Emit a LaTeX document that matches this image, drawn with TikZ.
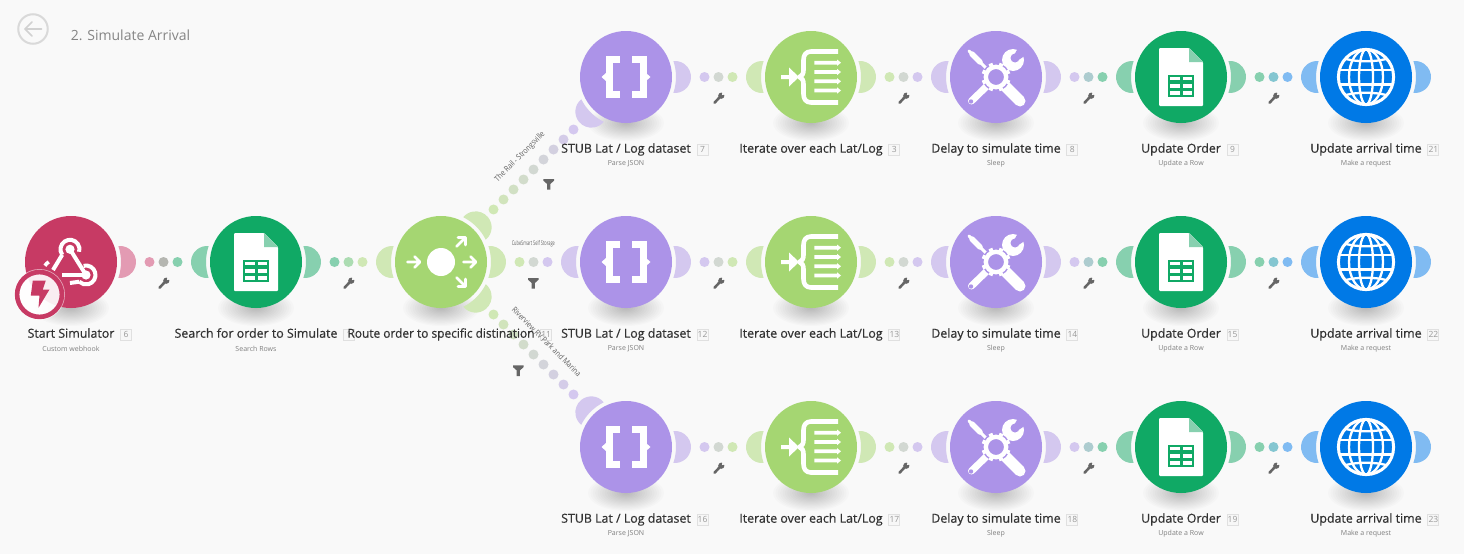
\documentclass[tikz,border=0pt]{standalone}
\usepackage{fontspec}
\usetikzlibrary{calc}
\setmainfont{Open Sans}
\newfontfamily\labfont[FakeBold=0.5]{Open Sans}
\newfontfamily\plainfont{Open Sans}
\definecolor{bgc}{HTML}{F9F9F9}
\definecolor{cpink}{HTML}{C73A64}\definecolor{lpink}{HTML}{E39BB3}
\definecolor{cdgreen}{HTML}{10A965}\definecolor{ldgreen}{HTML}{87D0AF}
\definecolor{clgreen}{HTML}{A5D672}\definecolor{llgreen}{HTML}{D0E8B5}
\definecolor{cpurple}{HTML}{AC93E8}\definecolor{lpurple}{HTML}{D4C8EF}
\definecolor{cblue}{HTML}{0079E6}\definecolor{lblue}{HTML}{80BBF2}
\definecolor{toolc}{HTML}{666666}
\tikzset{
  x=1pt,y=1pt,
  modcirc/.style={circle,minimum size=92pt,inner sep=0pt,draw=none},
  modlab/.style={inner sep=0pt,text height=9pt,text depth=3pt,font=\labfont\fontsize{12.4}{13}\selectfont,text=black!80},
  sublab/.style={inner sep=0pt,font=\plainfont\fontsize{7}{8}\selectfont,text=black!50},
  idxbox/.style={draw=black!12,fill=black!3,line width=1pt,minimum size=11pt,inner sep=0pt,font=\plainfont\fontsize{8.5}{9}\selectfont,text=black!40},
  edgelab/.style={inner sep=0pt,font=\plainfont\fontsize{8}{9}\selectfont,text=black!62},
  icw/.style={draw=white,line cap=round,line join=round},
  braceicon/.pic={
    \draw[icw,line width=7pt,line cap=butt,line join=miter] (-6,17.7) -- (-17,17.7) -- (-17,-17.7) -- (-6,-17.7);
    \draw[icw,line width=7pt,line cap=butt,line join=miter] (6,17.7) -- (17,17.7) -- (17,-17.7) -- (6,-17.7);
    \fill[white] (-20,4) -- (-24.5,0) -- (-20,-4) -- cycle;
    \fill[white] (20,4) -- (24.5,0) -- (20,-4) -- cycle;
  },
  sheeticon/.pic={
    \fill[white,rounded corners=1pt] (-22,29) -- (8,29) -- (22,15) -- (22,-29) -- (-22,-29) -- cycle;
    \fill[ldgreen] (8,29) -- (22,15) -- (8,15) -- cycle;
    \fill[cdgreen] (-12.8,2.5) rectangle (13,-19.5);
    \foreach \cx in {-10.6,1.6} \foreach \cy in {0.2,-7,-14} \fill[white] (\cx,\cy) rectangle ++(9.2,-3.6);
  },
  routericon/.pic={
    \fill[white] (0,0) circle (14);
    \draw[icw,line width=2.6pt] (-33.5,0) -- (-22,0) (-26.5,5.5) -- (-21,0) -- (-26.5,-5.5);
    \draw[icw,line width=2.6pt] (22.5,0) -- (34,0) (29.5,5.5) -- (35,0) -- (29.5,-5.5);
    \draw[icw,line width=2.6pt] (15.5,15.5) -- (24.5,24.5) (17,24.5) -- (24.5,24.5) -- (24.5,17);
    \draw[icw,line width=2.6pt] (15.5,-15.5) -- (24.5,-24.5) (17,-24.5) -- (24.5,-24.5) -- (24.5,-17);
  },
  iteratoricon/.pic={
    \draw[white,line width=4.6pt,line join=round] (27,25.5) -- (0,25.5) .. controls (-5,25.5) and (-7.5,22) .. (-7.5,17) -- (-7.5,7) .. controls (-7.5,3) and (-9,1) .. (-11.5,0) .. controls (-9,-1) and (-7.5,-3) .. (-7.5,-7) -- (-7.5,-17) .. controls (-7.5,-22) and (-5,-25.5) .. (0,-25.5) -- (27,-25.5);
    \foreach \ay in {14.3,5,-4.3,-13.5}{
      \fill[white] (3.3,\ay+1.9) -- (26,\ay+1.9) -- (26,\ay+3.2) -- (30,\ay) -- (26,\ay-3.2) -- (26,\ay-1.9) -- (3.3,\ay-1.9) -- cycle;
    }
    \fill[white] (-30,2) -- (-22,2) -- (-22,9.5) -- (-12,0) -- (-22,-9.5) -- (-22,-2) -- (-30,-2) -- cycle;
  },
  toolicon/.pic={
    \draw[icw,line width=3pt] (-27,26) -- (-8,7);
    \draw[icw,line width=5.5pt] (-24,23) -- (-16,15);
    \draw[icw,line width=11pt,line cap=butt] (9,-9) -- (24,-24);
    \fill[white] (24,-24) circle (5.5);
    \draw[icw,line width=7pt] (-24.5,-24) -- (-7,-7);
    \fill[cpurple] (-25,-24.5) circle (2.2);
    \draw[icw,line width=7pt] (6,6) -- (14,14);
    \fill[white] (17,17) circle (11);
    \fill[cpurple] (19,19) circle (4.5);
    \fill[cpurple] (17,20) -- (26,36) -- (36,26) -- (21,16) -- cycle;
    \fill[cpurple] (0,0) circle (14);
    \foreach \ga in {0,45,...,315} \draw[white,line width=4pt] (\ga+22.5:10.5) -- (\ga+22.5:14.6);
    \draw[white,line width=4.4pt] (0,0) circle (10.2);
  },
  globeicon/.pic={
    \draw[white,line width=3pt] (0,0) circle (27.6);
    \draw[white,line width=2.3pt] (0,0) ellipse (7 and 27.6);
    \draw[white,line width=2.3pt] (0,0) ellipse (17 and 27.6);
    \draw[white,line width=2.4pt] (-27,7.3) -- (27,7.3) (-27,-7.3) -- (27,-7.3);
    \draw[white,line width=2.3pt] (-20,18) .. controls (-9,15) and (9,15) .. (20,18);
    \draw[white,line width=2.3pt] (-20,-18) .. controls (-9,-15) and (9,-15) .. (20,-18);
  },
  hookicon/.pic={
    \draw[white,line width=4pt,line cap=butt] (-1,12.7) ++(215:9.5) arc[start angle=215,end angle=-15,radius=9.5];
    \draw[white,line width=4pt,line cap=butt] (-8.8,7.2) -- (-18,-8);
    \draw[white,line width=4pt,line cap=butt] (-1,12.7) -- (15,-13);
    \draw[white,line width=4pt,line cap=butt] (-9,-13) -- (15,-13);
    \draw[white,line width=4pt,line cap=butt] (15,-13) ++(105:9.5) arc[start angle=105,end angle=-135,radius=9.5];
    \draw[white,line width=4pt,line cap=butt] (8.3,-19.7) -- (-1,-21);
    \draw[white,line width=3.6pt,line cap=butt] (-17,-9) ++(120:10.5) arc[start angle=120,end angle=150,radius=10.5];
    \fill[white] (-1,12.7) circle (4.6);
    \fill[white] (15,-13) circle (4.6);
  },
  wrenchicon/.pic={
    \draw[toolc,line width=2.6pt,line cap=round] (-4,-4.2) -- (1.5,1.5);
    \fill[toolc] (2.8,2.8) circle (3.1);
    \fill[bgc] (3.4,3.4) -- (4.2,7.2) -- (7.2,4.2) -- cycle;
  },
  funnelicon/.pic={
    \fill[toolc] (-5.3,5.3) -- (5.3,5.3) -- (5.3,3.6) -- (1.6,0.3) -- (1.6,-5.3) -- (-1.6,-5.3) -- (-1.6,0.3) -- (-5.3,3.6) -- cycle;
  },
}
\newcommand\modshadow[2]{\foreach \i in {1,...,16}{\fill[black,opacity=.014] (#1,-#2-46) ellipse ({38*\i/16} and {18*\i/16});}}
\newcommand\modport[3]{\fill[#3,shift={(#1.center)},rotate=#2] (47.4,-15.9) arc[start angle=-95.7,end angle=95.7,radius=16] arc[start angle=18.5,end angle=-18.5,radius=50] -- cycle;}
\newcommand\linkdots[6]{%
  \foreach \k in {-#5,...,#5}{
    \pgfmathsetmacro\tt{0.5+\k*#6}
    \pgfmathtruncatemacro\mm{100-(\k+#5)*50/#5}
    \fill[#3!\mm!#4] ($(#1)!\tt!(#2)$) circle (5);
  }
}
\newcommand\rowlink[4]{%
  \linkdots{#1}{#2}{#3}{#4}{1}{0.07568}
  \pic at ($(#1)!0.5!(#2)+(0,-21.5)$) {wrenchicon};
}
\newcommand\modcircle[4]{\modshadow{#2}{#3}\node[modcirc,fill=#4] (#1) at (#2,-#3) {};}
\newcommand\modtext[4]{%
  \node[modlab] (#1-l) at ($(#1)+(0,-72.7)$) {#2};
  \node[idxbox,anchor=west] (#1-i) at ($(#1-l.east)+(5.5,0)$) {#3};
  \node[sublab] (#1-s) at ($(#1)+(0,-86.8)$) {#4};
}
\begin{document}
\begin{tikzpicture}
\useasboundingbox (0,0) rectangle (1464,-554);
\fill[bgc] (0,0) rectangle (1464,-554);
\node[circle,draw=black!15,line width=2pt,minimum size=29.5pt,inner sep=0pt] (back) at (33,-29) {};
\draw[black!18,line width=1.6pt,line cap=round,line join=round] (41.5,-29) -- (25,-29) (32,-22) -- (25,-29) -- (32,-36);
\node[inner sep=0pt,font=\plainfont\fontsize{14}{15}\selectfont,text=black!48] (title) at (130.5,-35) {2. Simulate Arrival};
\modcircle{start}{71}{262}{cpink}
\modcircle{search}{256}{262}{cdgreen}
\modcircle{router}{441}{262}{clgreen}
\foreach \r/\y in {1/77,2/262,3/447}{
  \modcircle{a\r}{626}{\y}{cpurple}
  \modcircle{b\r}{811}{\y}{clgreen}
  \modcircle{c\r}{996}{\y}{cpurple}
  \modcircle{d\r}{1181}{\y}{cdgreen}
  \modcircle{e\r}{1366}{\y}{cblue}
  \pic at (a\r) {braceicon};
  \pic at (b\r) {iteratoricon};
  \pic at (c\r) {toolicon};
  \pic at (d\r) {sheeticon};
  \pic at (e\r) {globeicon};
  \modport{a\r}{0}{lpurple}
  \modport{b\r}{180}{llgreen}\modport{b\r}{0}{llgreen}
  \modport{c\r}{180}{lpurple}\modport{c\r}{0}{lpurple}
  \modport{d\r}{180}{ldgreen}\modport{d\r}{0}{ldgreen}
  \modport{e\r}{180}{lblue}\modport{e\r}{0}{lblue}
  \rowlink{a\r}{b\r}{lpurple}{llgreen}
  \rowlink{b\r}{c\r}{llgreen}{lpurple}
  \rowlink{c\r}{d\r}{lpurple}{ldgreen}
  \rowlink{d\r}{e\r}{ldgreen}{lblue}
}
\pic at (search) {sheeticon};
\pic at (router) {routericon};
\pic at (start) {hookicon};
\modport{start}{0}{lpink}
\modport{search}{180}{ldgreen}\modport{search}{0}{ldgreen}
\modport{router}{180}{llgreen}\modport{router}{0}{llgreen}
\modport{router}{45}{llgreen}\modport{router}{-45}{llgreen}
\modport{a1}{225}{lpurple}\modport{a2}{180}{lpurple}\modport{a3}{135}{lpurple}
\rowlink{start}{search}{lpink}{ldgreen}
\rowlink{search}{router}{ldgreen}{llgreen}
\linkdots{router}{a1}{llgreen}{lpurple}{4}{0.05405}
\linkdots{router}{a2}{llgreen}{lpurple}{1}{0.07568}
\linkdots{router}{a3}{llgreen}{lpurple}{4}{0.05405}
\pic at (548.7,-184.3) {funnelicon};
\pic at (533.3,-283.3) {funnelicon};
\pic at (518.3,-370.7) {funnelicon};
\fill[white,opacity=.55] (39.5,-294.5) circle (25.5);
\fill[white,opacity=.8] (39.5,-294.5) circle (21);
\draw[cpink,line width=4.6pt] (39.5,-294.5) circle (22.4);
\fill[cpink] (32.8,-280.5) -- (45.8,-280.5) -- (42.8,-289.5) -- (49.5,-289.5) -- (38.5,-307.8) -- (39.5,-295.5) -- (30.8,-295.5) -- cycle;
\modtext{start}{Start Simulator}{6}{Custom webhook}
\modtext{search}{Search for order to Simulate}{1}{Search Rows}
\modtext{router}{\scalebox{.96}[1]{Route order to specific distination}}{11}{}
\foreach \r/\p/\q/\u/\v/\w in {1/7/3/8/9/21,2/12/13/14/15/22,3/16/17/18/19/23}{
  \modtext{a\r}{STUB Lat / Log dataset}{\p}{Parse JSON}
  \modtext{b\r}{Iterate over each Lat/Log}{\q}{}
  \modtext{c\r}{Delay to simulate time}{\u}{Sleep}
  \modtext{d\r}{Update Order}{\v}{Update a Row}
  \modtext{e\r}{Update arrival time}{\w}{Make a request}
}
\node[edgelab,rotate=45] (f1) at (520,-157) {\scalebox{.85}[1]{The Rail - Strongsville}};
\node[edgelab] (f2) at (533.3,-243.5) {\scalebox{.49}[.8]{CubeSmart Self Storage}};
\node[edgelab,rotate=-45] (f3) at (546.7,-341.7) {\scalebox{.85}[1]{Riverview RV Park and Marina}};
\end{tikzpicture}
\end{document}
